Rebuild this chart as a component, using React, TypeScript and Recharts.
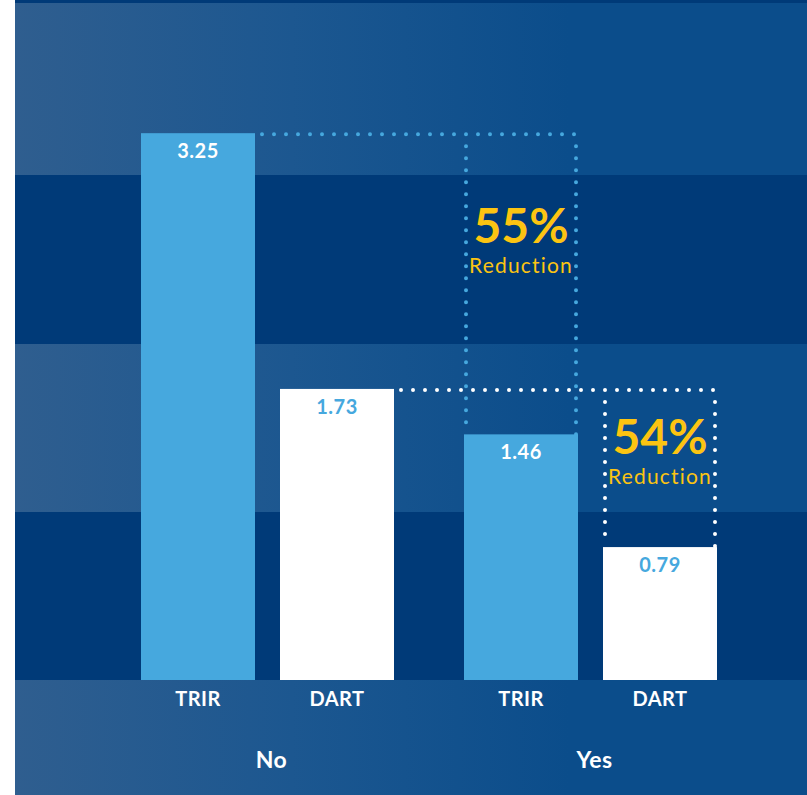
import React from 'react';
import { BarChart, Bar, XAxis, YAxis, CartesianGrid } from 'recharts';

// data
const groups = ['No', 'Yes'];
const seriesNames = ['TRIR', 'DART'];
const trirValues = [3.25, 1.46];
const dartValues = [1.73, 0.79];
const bandTicks = [0, 1, 2, 3, 4];

const data = groups.map((g, i) => ({ group: g, TRIR: trirValues[i], DART: dartValues[i] }));

// look
const BLUE = '#46a8de';
const DARK = '#003a78';
const YELLOW = '#fcc412';
const FONT = 'Lato, "Open Sans", sans-serif';

const W = 792;
const H = 795;
const PAD_L = 91;
const PAD_R = 55;
const BAND = (W - PAD_L - PAD_R) / groups.length;

const SERIES = [
  { name: seriesNames[0], values: trirValues, fill: BLUE, label: '#ffffff', dots: BLUE, textPos: 0.363, tail: 0 },
  { name: seriesNames[1], values: dartValues, fill: '#ffffff', label: BLUE, dots: '#ffffff', textPos: 0.41, tail: 32 },
];

const dotted = (color: string) => ({
  stroke: color,
  strokeWidth: 4,
  strokeDasharray: '0 12',
  strokeLinecap: 'round' as const,
});

// bar + value + series name + the dotted "reduction" bracket
const makeShape = (s: number) => (props: any) => {
  const cfg = SERIES[s];
  const { x, y, width, height, index } = props;
  const vals = cfg.values;
  const cx = x + width / 2;
  const base = y + height;
  const perUnit = height / vals[index];
  const parts: React.ReactNode[] = [
    <rect key="r" x={x} y={y} width={width} height={height} fill={cfg.fill} />,
    <text key="v" x={cx} y={y + 25} textAnchor="middle" fill={cfg.label} fontSize={20} fontWeight={700} letterSpacing={0.5} fontFamily={FONT}>
      {vals[index].toFixed(2)}
    </text>,
    <text key="n" x={cx} y={base + 26} textAnchor="middle" fill="#ffffff" fontSize={20} fontWeight={700} letterSpacing={0.5} fontFamily={FONT}>
      {cfg.name}
    </text>,
  ];
  if (index === 0) {
    parts.push(<line key="h" x1={x + width + 7} x2={x + BAND + width} y1={y + 1} y2={y + 1} {...dotted(cfg.dots)} />);
  } else {
    const yTop = base - vals[0] * perUnit + 1;
    const pct = Math.round((1 - vals[index] / vals[0]) * 100);
    const ty = yTop + (y - yTop) * cfg.textPos;
    parts.push(
      <line key="l" x1={x + 2} x2={x + 2} y1={yTop + 12} y2={y - 4} {...dotted(cfg.dots)} />,
      <line key="rr" x1={x + width - 2} x2={x + width - 2} y1={yTop + 12} y2={y + cfg.tail} {...dotted(cfg.dots)} />,
      <text key="p" x={cx} y={ty} textAnchor="middle" fill={YELLOW} fontSize={48} fontWeight={700} fontFamily={FONT}>
        {pct}%
      </text>,
      <text key="t" x={cx} y={ty + 30} textAnchor="middle" fill={YELLOW} fontSize={21} fontWeight={400} letterSpacing={1.2} fontFamily={FONT}>
        Reduction
      </text>
    );
  }
  return <g>{parts}</g>;
};

const GroupTick = (props: any) => {
  const { x, y, payload } = props;
  return (
    <text x={x + 4} y={y + 80} textAnchor="middle" fill="#ffffff" fontSize={23} fontWeight={700} letterSpacing={0.5} fontFamily={FONT}>
      {payload.value}
    </text>
  );
};

export default function App() {
  return (
    <div style={{ width: 807, height: H, background: '#ffffff' }}>
      <style>{'body{margin:0}'}</style>
      <div
        style={{
          marginLeft: 15,
          width: W,
          height: H,
          background: `linear-gradient(${DARK}, ${DARK}) top / 100% 3px no-repeat, linear-gradient(to right, #2f5e8f 0%, #1c5790 35%, #0b4d8b 70%, #0b4d8b 100%)`,
        }}
      >
        <BarChart width={W} height={H} data={data} margin={{ top: 7, right: 0, bottom: 0, left: 0 }} barSize={114} barGap={25}>
          <CartesianGrid vertical={false} stroke="transparent" horizontalFill={['transparent', DARK]} />
          <XAxis dataKey="group" height={115} padding={{ left: PAD_L, right: PAD_R }} axisLine={false} tickLine={false} tick={<GroupTick />} interval={0} />
          <YAxis hide type="number" domain={[0, 4]} ticks={bandTicks} />
          <Bar dataKey="TRIR" isAnimationActive={false} shape={makeShape(0)} />
          <Bar dataKey="DART" isAnimationActive={false} shape={makeShape(1)} />
        </BarChart>
      </div>
    </div>
  );
}
